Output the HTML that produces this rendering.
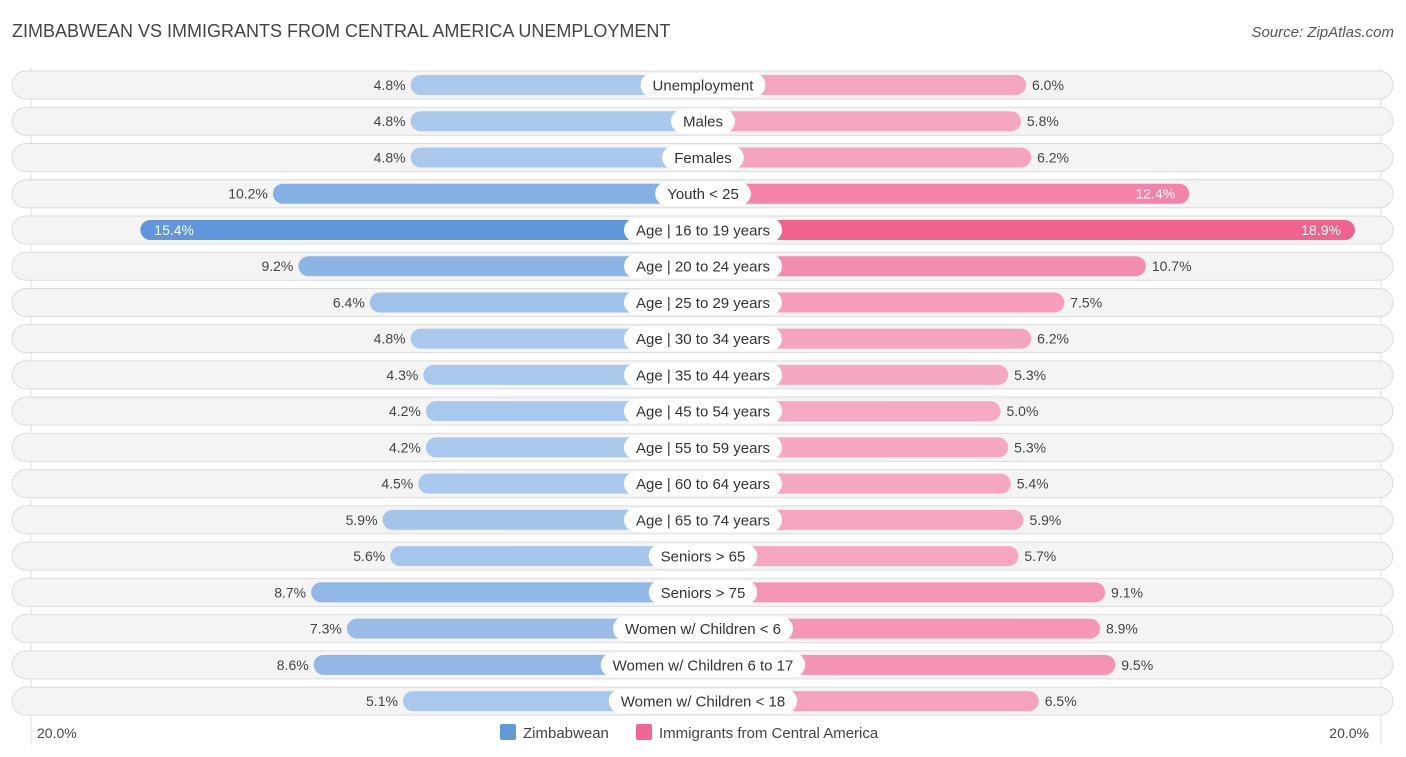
<!DOCTYPE html>
<html><head><meta charset="utf-8"><style>
body{margin:0;width:1406px;height:757px;background:#fff;font-family:"Liberation Sans",sans-serif;overflow:hidden;position:relative}
.t{position:absolute;white-space:nowrap}
</style></head><body>
<div class="t" style="left:12px;top:21px;font-size:18px;color:#444">ZIMBABWEAN VS IMMIGRANTS FROM CENTRAL AMERICA UNEMPLOYMENT</div>
<div class="t" style="right:12px;top:24px;font-size:15px;color:#555;font-style:italic">Source: ZipAtlas.com</div>
<svg id="c" width="1406" height="757" style="position:absolute;left:0;top:0"></svg>
<script>
const categories=["Unemployment","Males","Females","Youth < 25","Age | 16 to 19 years","Age | 20 to 24 years","Age | 25 to 29 years","Age | 30 to 34 years","Age | 35 to 44 years","Age | 45 to 54 years","Age | 55 to 59 years","Age | 60 to 64 years","Age | 65 to 74 years","Seniors > 65","Seniors > 75","Women w/ Children < 6","Women w/ Children 6 to 17","Women w/ Children < 18"];
const zimbabwean=[4.8,4.8,4.8,10.2,15.4,9.2,6.4,4.8,4.3,4.2,4.2,4.5,5.9,5.6,8.7,7.3,8.6,5.1];
const immigrants=[6.0,5.8,6.2,12.4,18.9,10.7,7.5,6.2,5.3,5.0,5.3,5.4,5.9,5.7,9.1,8.9,9.5,6.5];
const axisLabels=["20.0%","20.0%"];
const NS="http://www.w3.org/2000/svg",svg=document.getElementById('c');
const cx=703,off=170,k=25.5;
const y=i=>85+i*36.24;
const xl=v=>cx-off-v*k, xr=v=>cx+off+v*k;
function mk(t,a,p){const e=document.createElementNS(NS,t);for(const q in a)e.setAttribute(q,a[q]);(p||svg).appendChild(e);return e;}
function mix(a,b,t){return 'rgb('+a.map((c,i)=>Math.round(c+(b[i]-c)*t)).join(',')+')';}
const bl=[[170,200,236],[99,153,219]],pk=[[246,170,194],[240,104,146]];
mk('line',{x1:31,y1:68,x2:31,y2:745,stroke:'#ddd'});
mk('line',{x1:1381,y1:68,x2:1381,y2:745,stroke:'#ddd'});
categories.forEach((c,i)=>{
 const cy=y(i);
 const g=mk('g',{});
 
 
 mk('rect',{x:12,y:cy-14,width:1381,height:28,rx:14,fill:'#f4f4f4',stroke:'#dcdcdc'},g);
 const z=zimbabwean[i],m=immigrants[i];
 const b1=mk('rect',{x:xl(z),y:cy-10,width:cx-xl(z),height:20,rx:10,fill:mix(bl[0],bl[1],Math.max(0,(z-5)/10))},g);
 
 
 const b2=mk('rect',{x:cx,y:cy-10,width:xr(m)-cx,height:20,rx:10,fill:mix(pk[0],pk[1],Math.max(0,(m-5)/13))},g);
 
 
 const inL=z>12,inR=m>12;
 const t1=mk('text',{x:inL?xl(z)+14:xl(z)-5,y:cy+5,'font-size':14,fill:inL?'#fff':'#444','text-anchor':inL?'start':'end'},g);t1.textContent=z.toFixed(1)+'%';
 
 
 const t2=mk('text',{x:inR?xr(m)-14:xr(m)+6,y:cy+5,'font-size':14,fill:inR?'#fff':'#444','text-anchor':inR?'end':'start'},g);t2.textContent=m.toFixed(1)+'%';
 
 
 const lt=mk('text',{x:cx,y:cy+5.5,'font-size':15,fill:'#333','text-anchor':'middle'},g);lt.textContent=c;
 const w=lt.getComputedTextLength()+24;
 const pill=mk('rect',{x:cx-w/2,y:cy-12,width:w,height:24,rx:12,fill:'#fff'},g);
 g.insertBefore(pill,lt);
 
 
});
const a1=mk('text',{x:37,y:738,'font-size':14,fill:'#444'});a1.textContent=axisLabels[0];

const a2=mk('text',{x:1369,y:738,'font-size':14,fill:'#444','text-anchor':'end'});a2.textContent=axisLabels[1];

const l1=mk('rect',{x:500,y:724,width:16,height:16,rx:2,fill:'#6399db'});

const l1t=mk('text',{x:523,y:738,'font-size':15,fill:'#444'});l1t.textContent='Zimbabwean';

const l2=mk('rect',{x:636,y:724,width:16,height:16,rx:2,fill:'#f06892'});

const l2t=mk('text',{x:659,y:738,'font-size':15,fill:'#444'});l2t.textContent='Immigrants from Central America';

</script>
</body></html>
